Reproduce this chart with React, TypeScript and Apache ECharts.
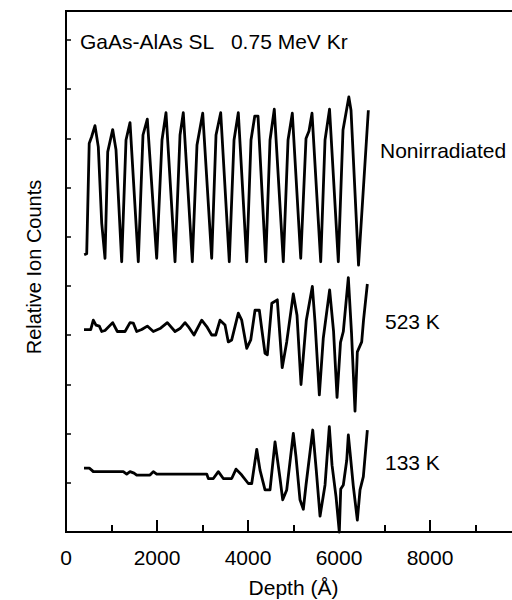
import React, { useEffect, useRef } from "react";
import * as echarts from "echarts";

// Depth (Å) and relative ion counts (arbitrary units)
const nonDepth = [400, 455, 510, 565, 637, 710, 785, 857, 917, 1026, 1099, 1224, 1319, 1407, 1589, 1692, 1787, 1993, 2110, 2198, 2396, 2506, 2578, 2776, 2879, 3005, 3202, 3297, 3400, 3589, 3693, 3787, 3972, 4066, 4148, 4220, 4389, 4484, 4578, 4776, 4880, 4974, 5159, 5275, 5341, 5407, 5598, 5693, 5792, 5985, 6088, 6216, 6264, 6429, 6645];
const nonCounts = [5.60, 5.62, 7.85, 7.99, 8.21, 7.78, 6.24, 5.53, 7.68, 8.13, 7.72, 5.46, 7.92, 8.27, 5.46, 8.02, 8.34, 5.53, 7.92, 8.47, 5.46, 8.02, 8.47, 5.46, 7.82, 8.46, 5.53, 8.02, 8.47, 5.46, 7.92, 8.47, 5.46, 7.92, 8.40, 8.40, 5.46, 7.92, 8.54, 5.46, 7.92, 8.46, 5.53, 7.95, 8.10, 8.46, 5.46, 7.92, 8.54, 5.46, 8.12, 8.79, 8.52, 5.39, 8.52];

const k523Depth = [396, 543, 600, 659, 732, 785, 857, 1026, 1128, 1297, 1407, 1479, 1554, 1664, 1787, 1919, 2066, 2227, 2396, 2506, 2616, 2688, 2813, 2983, 3093, 3202, 3290, 3385, 3495, 3567, 3642, 3787, 3862, 3972, 4060, 4154, 4249, 4301, 4374, 4425, 4523, 4644, 4752, 4851, 4996, 5077, 5165, 5282, 5414, 5473, 5568, 5655, 5794, 5880, 5957, 6033, 6095, 6205, 6275, 6352, 6403, 6499, 6539, 6623];
const k523Counts = [4.09, 4.09, 4.28, 4.18, 4.16, 4.05, 4.07, 4.23, 4.05, 4.05, 4.23, 4.22, 4.05, 4.09, 4.16, 4.05, 4.11, 4.23, 4.05, 4.11, 4.23, 4.15, 3.98, 4.28, 4.15, 3.98, 3.98, 4.28, 4.18, 3.84, 3.88, 4.42, 4.28, 3.71, 3.88, 4.48, 4.48, 4.11, 3.61, 3.58, 4.62, 4.69, 3.32, 3.84, 4.81, 4.38, 2.98, 4.28, 4.96, 4.24, 2.77, 3.92, 4.89, 4.06, 2.72, 3.83, 4.05, 5.14, 4.02, 2.44, 3.64, 3.84, 4.28, 5.01];

const k133Depth = [396, 512, 565, 600, 1259, 1334, 1407, 1495, 1554, 1846, 1919, 1994, 3093, 3128, 3238, 3348, 3457, 3642, 3737, 3862, 4007, 4082, 4192, 4264, 4374, 4484, 4594, 4704, 4763, 4851, 4996, 5055, 5143, 5216, 5275, 5423, 5502, 5583, 5693, 5787, 5847, 5935, 6007, 6038, 6095, 6170, 6205, 6242, 6315, 6403, 6462, 6535, 6623];
const k133Counts = [1.29, 1.29, 1.25, 1.22, 1.22, 1.17, 1.22, 1.19, 1.15, 1.15, 1.22, 1.17, 1.17, 1.08, 1.08, 1.22, 1.08, 1.08, 1.27, 1.15, 0.98, 0.98, 1.67, 1.25, 0.85, 0.85, 1.82, 1.08, 0.65, 0.85, 1.99, 1.52, 0.65, 0.46, 0.95, 2.06, 1.23, 0.32, 0.95, 2.13, 1.35, 0.71, 0.00, 0.87, 0.95, 1.45, 1.96, 1.62, 0.92, 0.24, 0.85, 1.12, 2.06];

const seriesNames = ["Nonirradiated", "523 K", "133 K"];
const titleText = "GaAs-AlAs SL   0.75 MeV Kr";
const xTitle = "Depth (Å)";
const yTitle = "Relative Ion Counts";
const xTickLabels = ["0", "2000", "4000", "6000", "8000"];

const FONT = "'Liberation Sans', Arial, Helvetica, sans-serif";

const zip = (xs: number[], ys: number[]) => xs.map((x, i) => [x, ys[i]]);

export default function App() {
  const ref = useRef<HTMLDivElement>(null);
  useEffect(() => {
    if (!ref.current) return;
    const chart = echarts.init(ref.current, null, { renderer: "svg" });
    const lineSeries = (name: string, data: number[][]) => ({
      name,
      type: "line",
      data,
      showSymbol: false,
      symbol: "none",
      clip: false,
      lineStyle: { color: "#000", width: 2.8, join: "round" },
    });
    chart.setOption({
      animation: false,
      backgroundColor: "#fff",
      grid: {
        left: 66,
        top: 11,
        width: 455,
        height: 521,
        show: true,
        borderColor: "#000",
        borderWidth: 2,
        containLabel: false,
        outerBoundsMode: "none",
      },
      xAxis: {
        type: "value",
        min: 0,
        max: 10000,
        interval: 2000,
        name: xTitle,
        nameLocation: "middle",
        nameGap: 45,
        nameTextStyle: { fontFamily: FONT, fontSize: 21, color: "#000" },
        axisLine: { show: true, onZero: false, lineStyle: { color: "#000", width: 2 } },
        axisTick: { show: true, inside: true, length: 12, lineStyle: { color: "#000", width: 2 } },
        minorTick: { show: true, splitNumber: 2, length: 7, lineStyle: { color: "#000", width: 2 } },
        axisLabel: {
          fontFamily: FONT,
          fontSize: 21,
          color: "#000",
          margin: 15,
          formatter: (v: number) => xTickLabels.find((t) => Number(t) === v) ?? "",
        },
        splitLine: { show: false },
      },
      yAxis: {
        type: "value",
        min: 0,
        max: 10.525,
        interval: 0.994,
        axisLine: { show: true, lineStyle: { color: "#000", width: 2 } },
        axisTick: { show: true, inside: true, length: 5, lineStyle: { color: "#000", width: 1.5 } },
        axisLabel: { show: false },
        splitLine: { show: false },
      },
      series: [
        lineSeries(seriesNames[0], zip(nonDepth, nonCounts)),
        lineSeries(seriesNames[1], zip(k523Depth, k523Counts)),
        lineSeries(seriesNames[2], zip(k133Depth, k133Counts)),
      ],
      graphic: [
        {
          type: "text",
          x: 80,
          y: 41,
          style: { text: titleText, font: `21px ${FONT}`, fill: "#000", verticalAlign: "middle" },
        },
        {
          type: "text",
          x: 380,
          y: 150,
          style: { text: seriesNames[0], font: `21px ${FONT}`, fill: "#000", verticalAlign: "middle" },
        },
        {
          type: "text",
          x: 385,
          y: 321,
          style: { text: seriesNames[1], font: `21px ${FONT}`, fill: "#000", verticalAlign: "middle" },
        },
        {
          type: "text",
          x: 385,
          y: 462,
          style: { text: seriesNames[2], font: `21px ${FONT}`, fill: "#000", verticalAlign: "middle" },
        },
        {
          type: "text",
          x: 34,
          y: 267,
          rotation: Math.PI / 2,
          style: {
            text: yTitle,
            font: `20px ${FONT}`,
            fill: "#000",
            align: "center",
            verticalAlign: "middle",
          },
        },
      ],
    });
    return () => chart.dispose();
  }, []);
  return <div ref={ref} style={{ width: 512, height: 600, position: "absolute", left: 0, top: 0 }} />;
}
